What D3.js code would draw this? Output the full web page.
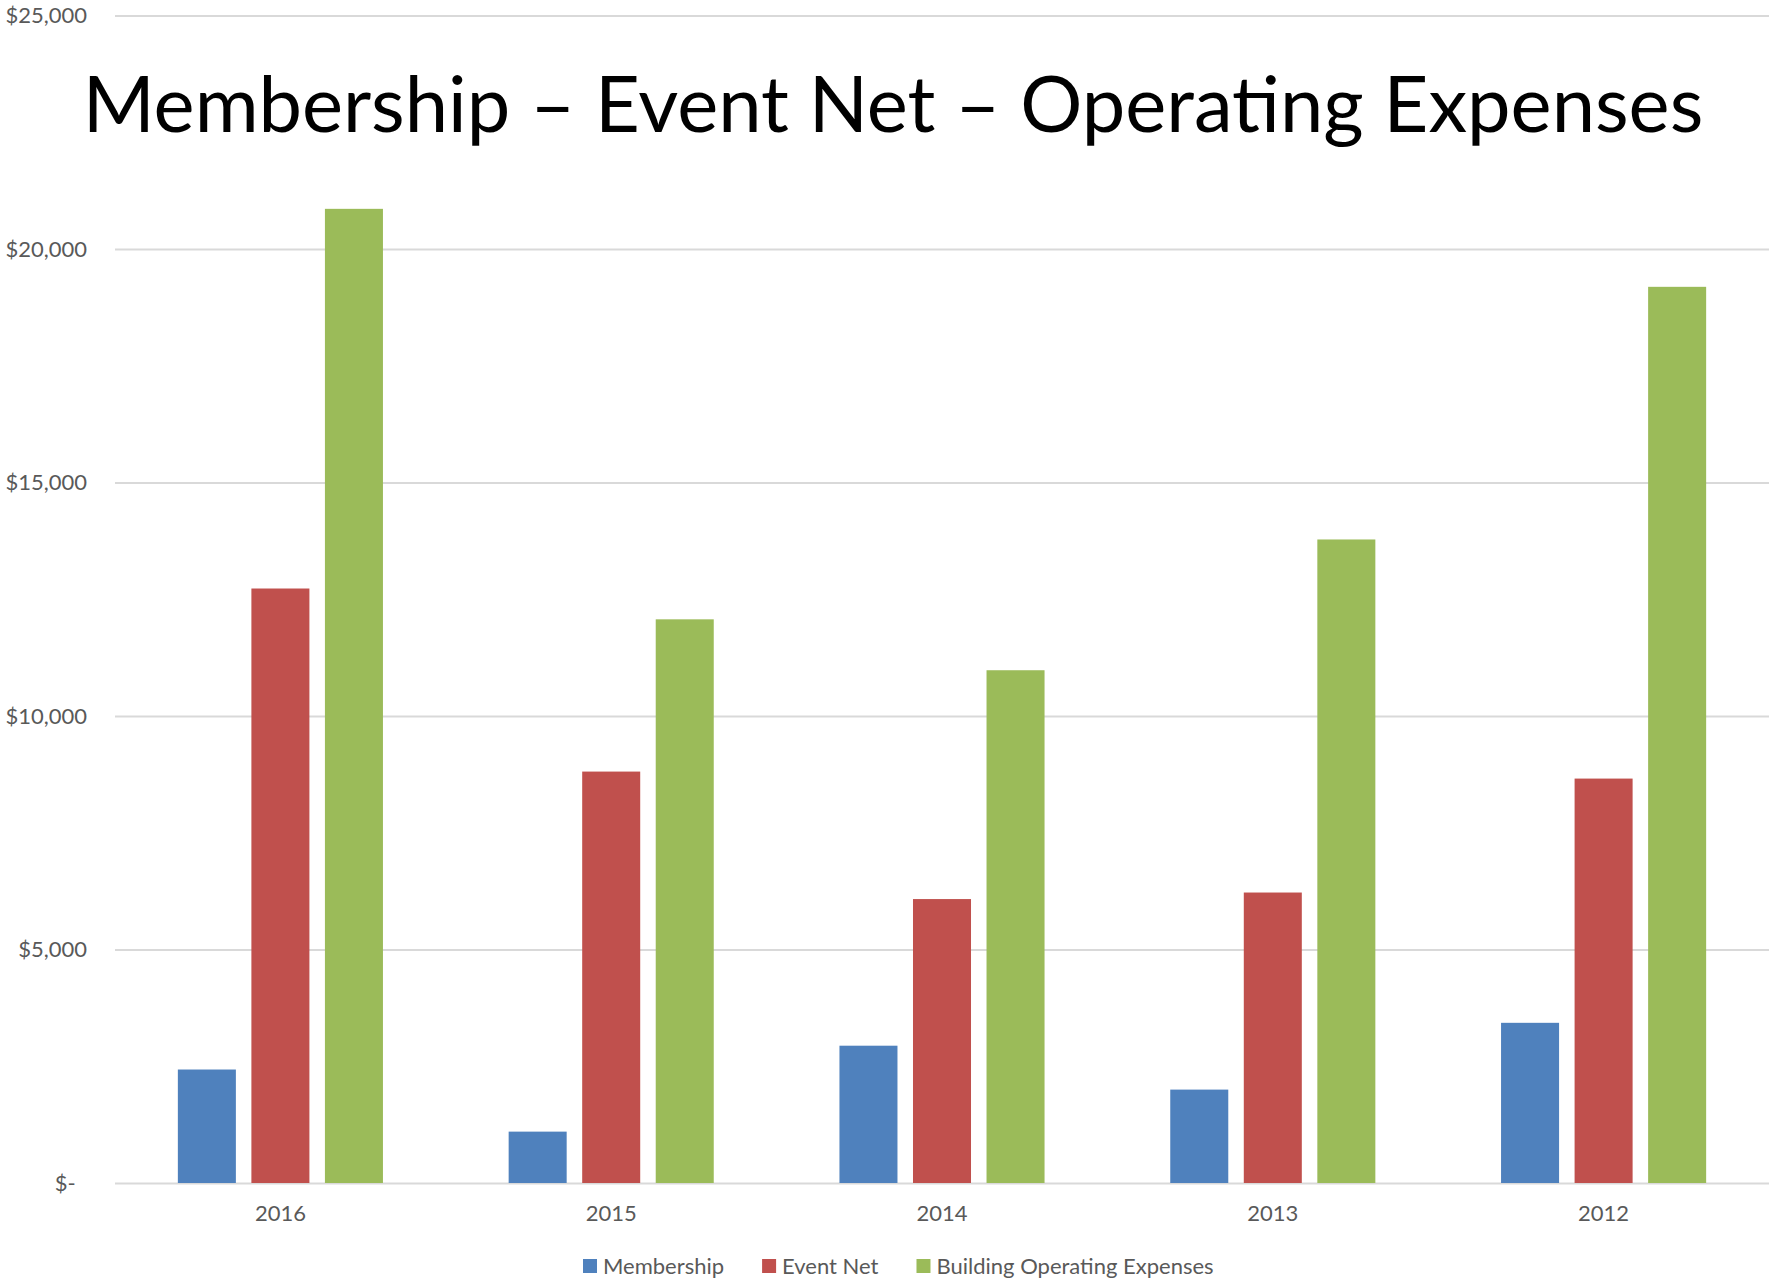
<!DOCTYPE html>
<html>
<head>
<meta charset="utf-8">
<script src="https://cdn.jsdelivr.net/npm/d3@7"></script>
<style>
  body { margin: 0; background: #fff; }
  text { font-family: Lato, "Open Sans", sans-serif; }
</style>
</head>
<body>
<svg id="chart"></svg>
<script>
// data
var years = ["2016", "2015", "2014", "2013", "2012"];
var seriesNames = ["Membership", "Event Net", "Building Operating Expenses"];
var membership = [2430, 1100, 2940, 2000, 3430];
var eventNet = [12730, 8810, 6080, 6220, 8660];
var buildingOps = [20860, 12070, 10980, 13780, 19190];
var yTicks = [0, 5000, 10000, 15000, 20000, 25000];
var colors = ["#4F81BD", "#C0504D", "#9BBB59"];

var w = 1769;
var h = 1283;
var left = 115;
var baseY = 1183;

var svg = d3.select("#chart")
    .attr("width", w)
    .attr("height", h);

var rows = years.map(function(y, i) {
    return { year: y, values: [membership[i], eventNet[i], buildingOps[i]] };
});

//Scales
var x0 = d3.scaleBand()
    .domain(years)
    .range([left, w])
    .paddingInner(0.38)
    .paddingOuter(0.19);

var x1 = d3.scaleBand()
    .domain(seriesNames)
    .range([0, x0.bandwidth()])
    .paddingInner(0.211);

var yScale = d3.scaleLinear()
    .domain([0, 25000])
    .range([baseY, baseY - 25000 * (baseY - 249) / 20000]);

var money = d3.format(",");

//Y axis with gridlines
var yAxis = d3.axisLeft(yScale)
    .tickValues(yTicks)
    .tickSize(-(w - left))
    .tickPadding(28)
    .tickFormat(function(d) { return d === 0 ? "$-\u00A0\u00A0" : "$" + money(d); });

var gy = svg.append("g")
    .attr("transform", "translate(" + left + ",0)")
    .call(yAxis);
gy.select(".domain").remove();
gy.selectAll("line").attr("stroke", "#d9d9d9").attr("stroke-width", 2);
gy.selectAll("text")
    .attr("fill", "#595959")
    .style("font-size", "22px");

//X axis labels
var xAxis = d3.axisBottom(x0)
    .tickSize(0)
    .tickPadding(22);
var gx = svg.append("g")
    .attr("transform", "translate(0," + baseY + ")")
    .call(xAxis);
gx.select(".domain").remove();
gx.selectAll("text")
    .attr("fill", "#595959")
    .style("font-size", "22px");

//Bars
var groups = svg.selectAll(".yr")
    .data(rows)
    .enter()
    .append("g")
    .attr("class", "yr")
    .attr("transform", function(d) { return "translate(" + x0(d.year) + ",0)"; });

groups.selectAll("rect")
    .data(function(d) { return d.values.map(function(v, i) { return { name: seriesNames[i], value: v, i: i }; }); })
    .enter()
    .append("rect")
    .attr("x", function(d) { return x1(d.name); })
    .attr("y", function(d) { return yScale(d.value); })
    .attr("width", x1.bandwidth())
    .attr("height", function(d) { return baseY - yScale(d.value); })
    .attr("fill", function(d) { return colors[d.i]; });

//Title, sized to match the original width
var title = svg.append("text")
    .attr("x", 893)
    .attr("y", 132)
    .attr("text-anchor", "middle")
    .attr("fill", "#000")
    .style("font-size", "80px")
    .text("Membership \u2013 Event Net \u2013 Operating Expenses");
var tw = title.node().getComputedTextLength();
title.style("font-size", (80 * 1621 / tw) + "px");

//Legend
var legend = svg.append("g")
    .attr("transform", "translate(583,1266)");
var lx = 0;
seriesNames.forEach(function(name, i) {
    var item = legend.append("g").attr("transform", "translate(" + lx + ",0)");
    item.append("rect")
        .attr("x", 0)
        .attr("y", -7)
        .attr("width", 14)
        .attr("height", 14)
        .attr("fill", colors[i]);
    var t = item.append("text")
        .attr("x", 20)
        .attr("y", 8)
        .attr("fill", "#595959")
        .style("font-size", "22px")
        .text(name);
    lx += 20 + t.node().getComputedTextLength() + 38;
});
</script>
</body>
</html>
